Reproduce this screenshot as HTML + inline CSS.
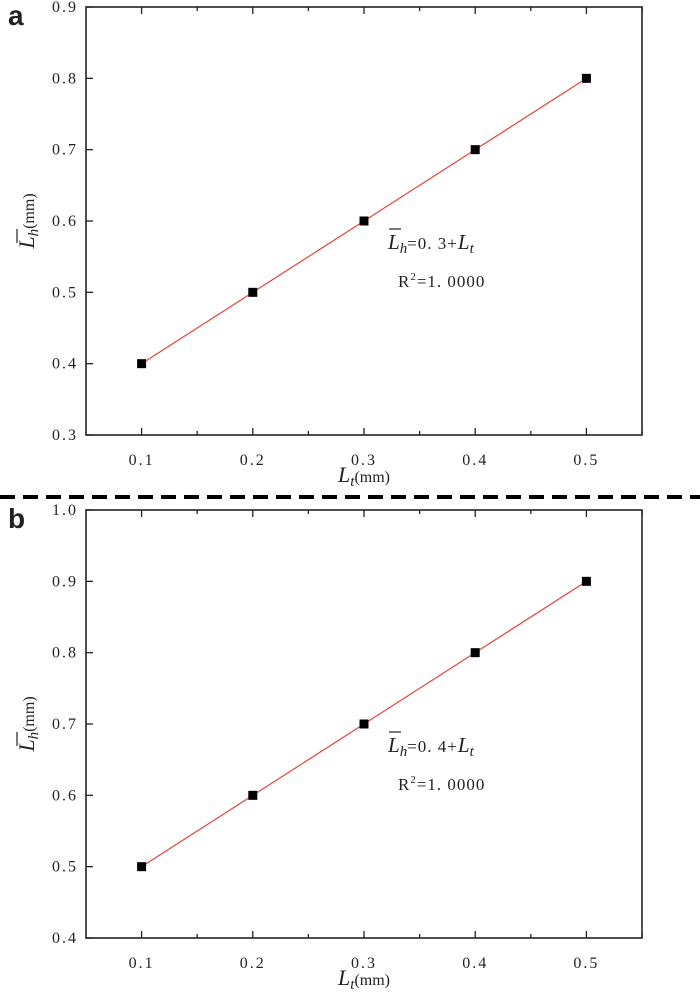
<!DOCTYPE html>
<html><head><meta charset="utf-8"><style>
body{margin:0;background:#fff;}
svg text{font-family:"Liberation Serif","Noto Serif CJK SC",serif;fill:#222;}
.tk{font-size:16px;letter-spacing:2px;}
</style></head><body>
<svg id="s" width="700" height="991" xmlns="http://www.w3.org/2000/svg">
<line x1="0" y1="497" x2="700" y2="497" stroke="#000" stroke-width="4" stroke-dasharray="15,8"/>
</svg>
<script>
const xCats=[0.1,0.2,0.3,0.4,0.5];
const seriesA=[0.4,0.5,0.6,0.7,0.8];
const seriesB=[0.5,0.6,0.7,0.8,0.9];
const yTicksA=[0.3,0.4,0.5,0.6,0.7,0.8,0.9];
const yTicksB=[0.4,0.5,0.6,0.7,0.8,0.9,1.0];
const eqA="0. 3";
const eqB="0. 4";
const NS="http://www.w3.org/2000/svg";
const svg=document.getElementById('s');
function mk(t,a,p){const e=document.createElementNS(NS,t);for(const k in a)e.setAttribute(k,a[k]);(p||svg).appendChild(e);return e;}
function panel(id,top,yT,ser,eq){
  const L=86,R=642,T=top,B=top+428;
  const g=mk('g',{});
  
  
  const x0=0.05,x1=0.55,y0=yT[0],y1=yT[yT.length-1];
  const X=v=>L+(v-x0)/(x1-x0)*(R-L);
  const Y=v=>B-(v-y0)/(y1-y0)*(B-T);
  const fr=mk('rect',{x:L,y:T,width:R-L,height:B-T,fill:'none',stroke:'#222','stroke-width':1.6},g);
  
  
  for(let v=0.1;v<0.551;v+=0.05){
    const maj=Math.abs(Math.round(v*10)-v*10)<1e-6;const len=maj?7:4;const x=X(v);
    mk('line',{x1:x,y1:B,x2:x,y2:B-len,stroke:'#222','stroke-width':1.3},g);
    mk('line',{x1:x,y1:T,x2:x,y2:T+len,stroke:'#222','stroke-width':1.3},g);
  }
  xCats.forEach(v=>{const t=mk('text',{x:X(v),y:B+30,'text-anchor':'middle',class:'tk'},g);t.textContent=v.toFixed(1);
    });
  yT.forEach(v=>{const y=Y(v);mk('line',{x1:L,y1:y,x2:L+7,y2:y,stroke:'#222','stroke-width':1.3},g);
    const t=mk('text',{x:L-8,y:y+5,'text-anchor':'end',class:'tk'},g);t.textContent=v.toFixed(1);
    });
  const ln=mk('polyline',{points:ser.map((v,i)=>X(xCats[i])+','+Y(v)).join(' '),fill:'none',stroke:'#e8413a','stroke-width':1.2},g);
  
  ser.forEach((v,i)=>{const r=mk('rect',{x:X(xCats[i])-4.5,y:Y(v)-4.5,width:9,height:9,fill:'#000'},g);
    });
  const xt=mk('text',{x:(L+R)/2,y:B+47,'text-anchor':'middle','font-size':18},g);
  xt.innerHTML='<tspan font-style="italic" font-size="22">L</tspan><tspan font-style="italic" font-size="15" dy="4">t</tspan><tspan dy="-4" font-size="16">(mm)</tspan>';
  
  const yt=mk('text',{transform:`translate(34,${(T+B)/2}) rotate(-90)`,'text-anchor':'middle','font-size':18},g);
  yt.innerHTML='<tspan font-style="italic" font-size="22">L</tspan><tspan font-style="italic" font-size="15" dy="4">h</tspan><tspan dy="-4" font-size="16">(mm)</tspan>';
  
  mk('line',{x1:17,y1:(T+B)/2+22,x2:17,y2:(T+B)/2+8,stroke:'#222','stroke-width':1.2},g);
  const eqT=mk('text',{x:388,y:T+242,'font-size':17},g);
  eqT.innerHTML='<tspan font-style="italic" font-size="21">L</tspan><tspan font-style="italic" font-size="15" dy="4">h</tspan><tspan dy="-4" style="letter-spacing:1px">='+eq+'+</tspan><tspan font-style="italic" font-size="21">L</tspan><tspan font-style="italic" font-size="15" dy="4">t</tspan>';
  
  mk('line',{x1:389,y1:T+222,x2:401,y2:T+222,stroke:'#222','stroke-width':1.2},g);
  const r2=mk('text',{x:398,y:T+280,'font-size':17,style:'letter-spacing:1px'},g);
  r2.innerHTML='R<tspan font-size="11" dy="-7">2</tspan><tspan dy="7">=1. 0000</tspan>';
  
  const lb=mk('text',{x:8,y:T+18,'font-size':28,'font-weight':'bold',style:'font-family:"Liberation Sans",sans-serif'},g);
  lb.textContent=id;
}
panel('a',7,yTicksA,seriesA,eqA);
panel('b',510,yTicksB,seriesB,eqB);
</script>
</body></html>
